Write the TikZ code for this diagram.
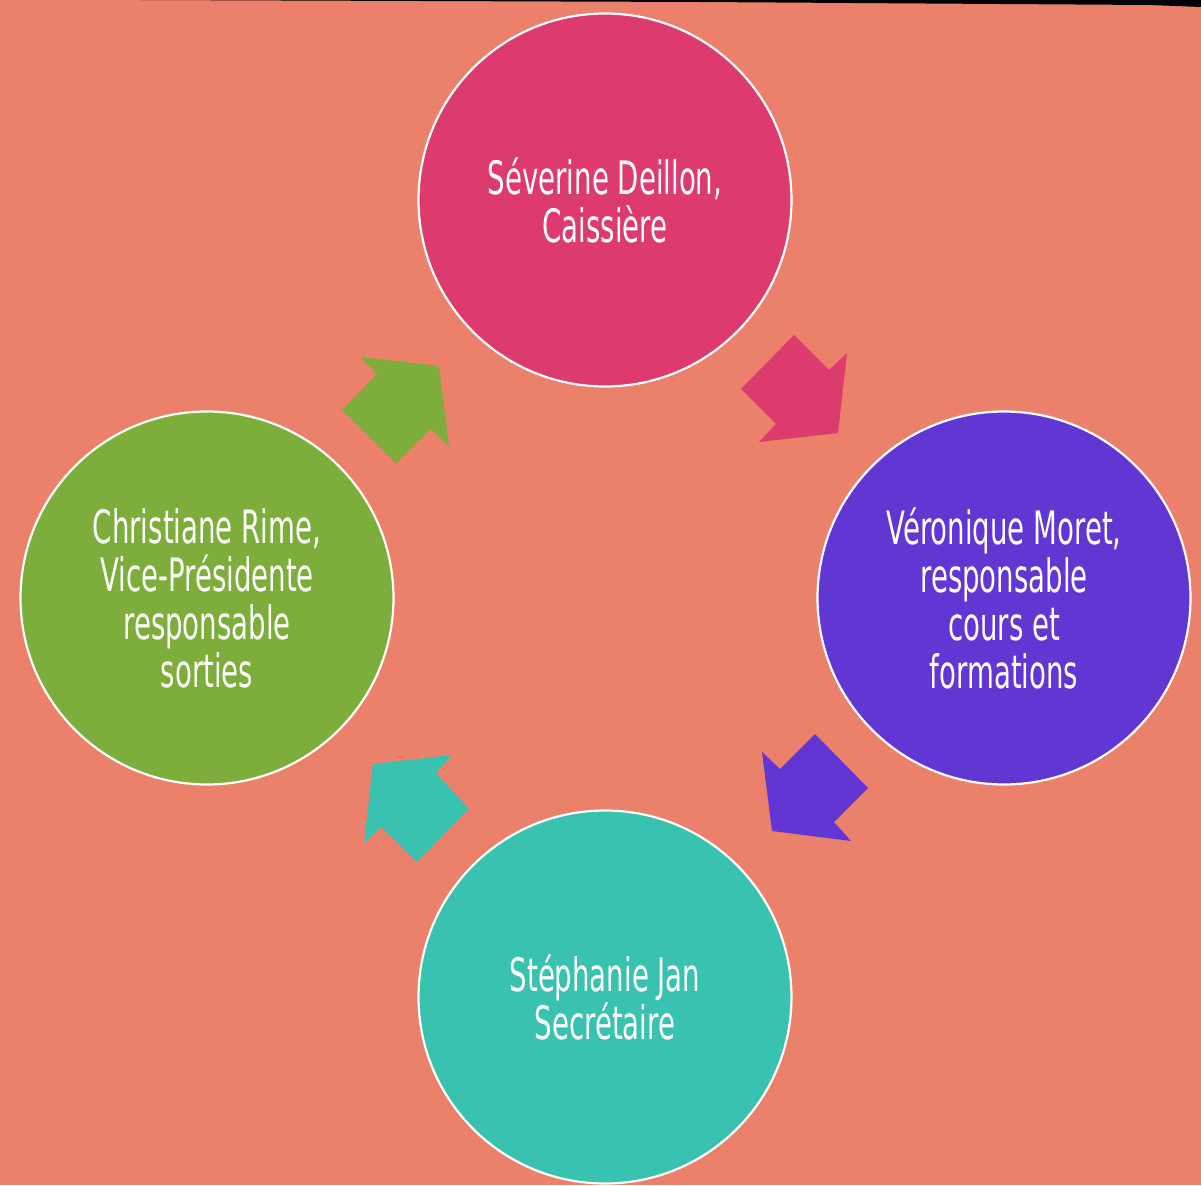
\documentclass[tikz,border=0pt]{standalone}
\usepackage{fontspec}
\newfontfamily\agency{DejaVu Sans}[FakeStretch=0.6]
\definecolor{bgc}{RGB}{235,129,106}
\definecolor{pinkc}{RGB}{221,58,110}
\definecolor{purplec}{RGB}{98,54,210}
\definecolor{greenc}{RGB}{125,174,60}
\definecolor{tealc}{RGB}{58,194,176}
\tikzset{
  member/.style={circle, draw=white, line width=2.2pt, minimum size=373pt, inner sep=0pt,
    text=white, align=center, font=\agency\fontsize{46}{48}\selectfont},
  blockarrow/.style={draw=none}
}
\begin{document}
\begin{tikzpicture}[x=1pt,y=-1pt]
\fill[bgc] (0,0) rectangle (1201,1185);
\useasboundingbox (0,0) rectangle (1201,1185);
% top dark edge
\fill[black] (140,0) -- (1201,0) -- (1201,7) -- (1150,5) -- (700,2) -- cycle;
% circles
\node[member, fill=pinkc] (sev) at (605,200) {Séverine Deillon,\\Caissière};
\node[member, fill=purplec] (ver) at (1004,598) {Véronique Moret,\\responsable\\cours et\\formations};
\node[member, fill=tealc] (ste) at (605,997) {Stéphanie Jan\\Secrétaire};
\node[member, fill=greenc] (chr) at (207,598) {Christiane Rime,\\Vice-Présidente\\responsable\\sorties};
% block arrows
\fill[pinkc] (794,335) -- (829,370) -- (847,353) -- (838,433) -- (759,442) -- (776,424) -- (741,389) -- cycle;
\fill[purplec] (815,734) -- (868,788) -- (834,822) -- (851,841) -- (772,831) -- (762,752) -- (780,769) -- cycle;
\fill[tealc] (452,755) -- (436,773) -- (469,809) -- (417,862) -- (381,827) -- (364,843) -- (373,764) -- cycle;
\fill[greenc] (360,357) -- (439,366) -- (449,446) -- (431,429) -- (396,463) -- (342,410) -- (377,374) -- cycle;
\end{tikzpicture}
\end{document}
